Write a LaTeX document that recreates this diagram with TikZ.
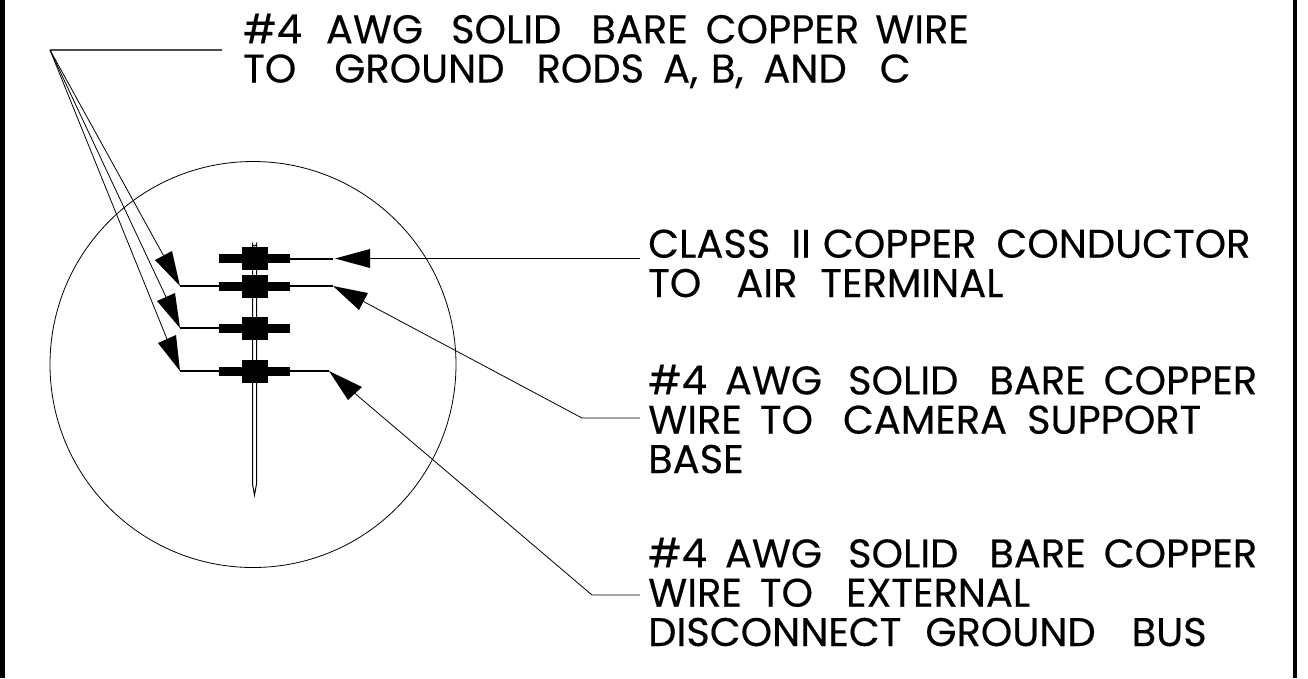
\documentclass[tikz,border=0pt]{standalone}
\usepackage{fontspec}
\usetikzlibrary{calc}
\setmainfont{Poppins}[FakeBold=0.35]
\tikzset{
  lbl/.style={anchor=base west,inner sep=0pt,align=left,font=\fontsize{40}{39.3}\selectfont},
  leader/.style={draw=black,line width=0.8pt},
  shelf/.style={draw=black!70,line width=1.5pt},
  wire/.style={draw=black,line width=2pt},
  head/.style={fill=black,draw=none},
  clampbar/.style={fill=black,minimum width=71pt,minimum height=9pt,inner sep=0pt,outer sep=0pt},
  clampsq/.style={fill=black,minimum width=26pt,minimum height=23pt,inner sep=0pt,outer sep=0pt},
  ring/.style={circle,draw=black,line width=0.8pt,minimum size=406pt,inner sep=0pt,outer sep=0pt},
  rod/.style={draw=black,line width=1pt,fill=white}
}
\newcommand{\gp}[1]{\hspace{#1pt}}
\begin{document}
\begin{tikzpicture}[x=1pt,y=-1pt]
\useasboundingbox (0,0) rectangle (1308,678);
\fill[black] (0,0) rectangle (5,678);
\fill[black] (1293,0) rectangle (1297,678);
\node[ring] (circ) at (253,364.5) {};
% rod
\draw[rod] (252.5,484) -- (252.5,244) arc (180:0:2 and 2) -- (256.5,484) -- (254.5,495) -- cycle;
% clamps
\foreach \n/\y in {a/258.5,b/286,c/328,d/371}{
  \node[clampbar] (bar\n) at (254.5,\y) {};
  \node[clampsq] (sq\n) at (255,\y) {};
}
% named points
\coordinate (hub) at (50,50);
\coordinate (shelfend) at (222,50);
\coordinate (tipA) at (335,258.5);
\coordinate (a1) at (370,249);
\coordinate (a2) at (370,268);
\coordinate (aR) at (640,258.5);
\coordinate (wA) at (333,258.5);
\coordinate (tipB) at (333,286);
\coordinate (b1) at (368,293);
\coordinate (b2) at (359,310);
\coordinate (bm) at (582,418);
\coordinate (bR) at (640,418);
\coordinate (tipD) at (329,371);
\coordinate (d1) at (362,387);
\coordinate (d2) at (348,400);
\coordinate (dm) at (592,595);
\coordinate (dR) at (640,595);
\coordinate (tipL2) at (180,286);
\coordinate (l21) at (155,260);
\coordinate (l22) at (172,251);
\coordinate (tipL3) at (180,328);
\coordinate (l31) at (157,301);
\coordinate (l32) at (175,293);
\coordinate (tipL4) at (180,371);
\coordinate (l41) at (158,343);
\coordinate (l42) at (176,335);
% wires
\draw[wire] (bara.east) -- (wA);
\draw[wire] (barb.east) -- (tipB);
\draw[wire] (bard.east) -- (tipD);
\draw[wire] (barb.west) -- (tipL2);
\draw[wire] (barc.west) -- (tipL3);
\draw[wire] (bard.west) -- (tipL4);
% heads
\fill[head] (tipA) -- (a1) -- (a2) -- cycle;
\fill[head] (tipB) -- (b1) -- (b2) -- cycle;
\fill[head] (tipD) -- (d1) -- (d2) -- cycle;
\fill[head] (tipL2) -- (l21) -- (l22) -- cycle;
\fill[head] (tipL3) -- (l31) -- (l32) -- cycle;
\fill[head] (tipL4) -- (l41) -- (l42) -- cycle;
% leaders
\draw[shelf] (hub) -- (shelfend);
\draw[leader] (hub) -- ($(l21)!0.5!(l22)$);
\draw[leader] (hub) -- ($(l31)!0.5!(l32)$);
\draw[leader] (hub) -- ($(l41)!0.5!(l42)$);
\draw[leader] ($(a1)!0.5!(a2)$) -- (aR);
\draw[leader] ($(b1)!0.5!(b2)$) -- (bm) -- (bR);
\draw[leader] ($(d1)!0.5!(d2)$) -- (dm) -- (dR);
% labels
\node[lbl] (t1) at (243,82.5) {\#4\gp{24}AWG\gp{28}SOLID\gp{30}BARE\gp{18}COPPER\gp{16}WIRE\\TO\gp{38}GROUND\gp{32}RODS\gp{19}A,\gp{13}B,\gp{20}AND\gp{33}C};
\node[lbl] (t2) at (648,297) {CLASS\gp{21}II\gp{12}COPPER\gp{20}CONDUCTOR\\TO\gp{35}AIR\gp{23}TERMINAL};
\node[lbl] (t3) at (648,473) {\#4\gp{18}AWG\gp{26}SOLID\gp{31}BARE\gp{18}COPPER\\WIRE\gp{18}TO\gp{30}CAMERA\gp{20}SUPPORT\\BASE};
\node[lbl] (t4) at (648,646) {\#4\gp{18}AWG\gp{26}SOLID\gp{31}BARE\gp{18}COPPER\\WIRE\gp{18}TO\gp{33}EXTERNAL\\DISCONNECT\gp{24}GROUND\gp{36}BUS};
\end{tikzpicture}
\end{document}
